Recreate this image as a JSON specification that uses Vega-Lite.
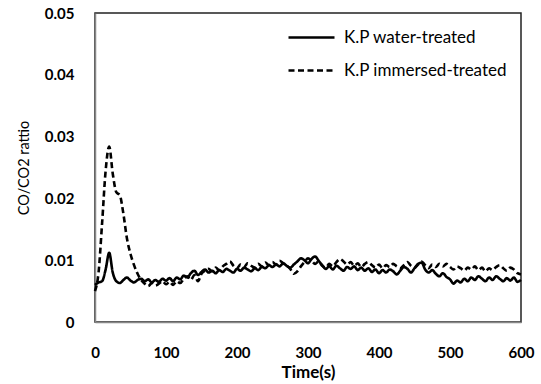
{
  "$schema": "https://vega.github.io/schema/vega-lite/v6.json",
  "autosize": "none",
  "width": 426,
  "height": 309,
  "padding": {"left": 95, "top": 13, "right": 20, "bottom": 62},
  "background": "white",
  "config": {
    "view": {"stroke": "#222", "strokeWidth": 1.5},
    "font": "Lato"
  },
  "data": {
    "values": [
      {"t":0,"w":0.0060,"i":0.0050},{"t":5,"w":0.0064,"i":0.0080},{"t":10,"w":0.0066,"i":0.0160},{"t":15,"w":0.0085,"i":0.0245},
      {"t":20,"w":0.0112,"i":0.0284},{"t":25,"w":0.0080,"i":0.0240},{"t":30,"w":0.0066,"i":0.0210},{"t":35,"w":0.0063,"i":0.0205},
      {"t":40,"w":0.0068,"i":0.0175},{"t":45,"w":0.0072,"i":0.0135},{"t":50,"w":0.0067,"i":0.0110},{"t":55,"w":0.0064,"i":0.0092},
      {"t":60,"w":0.0068,"i":0.0078},{"t":65,"w":0.0070,"i":0.0068},{"t":70,"w":0.0066,"i":0.0062},{"t":75,"w":0.0069,"i":0.0058},
      {"t":80,"w":0.0064,"i":0.0063},{"t":85,"w":0.0068,"i":0.0059},{"t":90,"w":0.0065,"i":0.0062},{"t":95,"w":0.0070,"i":0.0066},
      {"t":100,"w":0.0067,"i":0.0061},{"t":105,"w":0.0071,"i":0.0065},{"t":110,"w":0.0066,"i":0.0060},{"t":115,"w":0.0072,"i":0.0066},
      {"t":120,"w":0.0069,"i":0.0063},{"t":125,"w":0.0075,"i":0.0070},{"t":130,"w":0.0072,"i":0.0074},{"t":135,"w":0.0079,"i":0.0068},
      {"t":140,"w":0.0083,"i":0.0076},{"t":145,"w":0.0076,"i":0.0066},{"t":150,"w":0.0081,"i":0.0078},{"t":155,"w":0.0085,"i":0.0083},
      {"t":160,"w":0.0080,"i":0.0086},{"t":165,"w":0.0083,"i":0.0082},{"t":170,"w":0.0079,"i":0.0088},{"t":175,"w":0.0084,"i":0.0084},
      {"t":180,"w":0.0081,"i":0.0090},{"t":185,"w":0.0086,"i":0.0094},{"t":190,"w":0.0083,"i":0.0098},{"t":195,"w":0.0080,"i":0.0091},
      {"t":200,"w":0.0086,"i":0.0087},{"t":205,"w":0.0083,"i":0.0093},{"t":210,"w":0.0088,"i":0.0089},{"t":215,"w":0.0085,"i":0.0095},
      {"t":220,"w":0.0082,"i":0.0091},{"t":225,"w":0.0087,"i":0.0088},{"t":230,"w":0.0084,"i":0.0094},{"t":235,"w":0.0089,"i":0.0090},
      {"t":240,"w":0.0087,"i":0.0096},{"t":245,"w":0.0092,"i":0.0092},{"t":250,"w":0.0089,"i":0.0097},{"t":255,"w":0.0093,"i":0.0093},
      {"t":260,"w":0.0090,"i":0.0099},{"t":265,"w":0.0095,"i":0.0095},{"t":270,"w":0.0091,"i":0.0091},{"t":275,"w":0.0088,"i":0.0086},
      {"t":280,"w":0.0093,"i":0.0078},{"t":285,"w":0.0098,"i":0.0082},{"t":290,"w":0.0103,"i":0.0090},{"t":295,"w":0.0100,"i":0.0097},
      {"t":300,"w":0.0095,"i":0.0103},{"t":305,"w":0.0102,"i":0.0099},{"t":310,"w":0.0106,"i":0.0094},{"t":315,"w":0.0099,"i":0.0098},
      {"t":320,"w":0.0092,"i":0.0091},{"t":325,"w":0.0086,"i":0.0088},{"t":330,"w":0.0090,"i":0.0094},{"t":335,"w":0.0085,"i":0.0090},
      {"t":340,"w":0.0091,"i":0.0097},{"t":345,"w":0.0087,"i":0.0102},{"t":350,"w":0.0083,"i":0.0098},{"t":355,"w":0.0089,"i":0.0093},
      {"t":360,"w":0.0086,"i":0.0097},{"t":365,"w":0.0090,"i":0.0091},{"t":370,"w":0.0084,"i":0.0095},{"t":375,"w":0.0088,"i":0.0089},
      {"t":380,"w":0.0083,"i":0.0094},{"t":385,"w":0.0087,"i":0.0097},{"t":390,"w":0.0081,"i":0.0092},{"t":395,"w":0.0085,"i":0.0088},
      {"t":400,"w":0.0079,"i":0.0093},{"t":405,"w":0.0084,"i":0.0087},{"t":410,"w":0.0080,"i":0.0092},{"t":415,"w":0.0085,"i":0.0089},
      {"t":420,"w":0.0082,"i":0.0094},{"t":425,"w":0.0077,"i":0.0090},{"t":430,"w":0.0083,"i":0.0087},{"t":435,"w":0.0089,"i":0.0092},
      {"t":440,"w":0.0086,"i":0.0097},{"t":445,"w":0.0080,"i":0.0091},{"t":450,"w":0.0087,"i":0.0088},{"t":455,"w":0.0094,"i":0.0093},
      {"t":460,"w":0.0096,"i":0.0098},{"t":465,"w":0.0085,"i":0.0092},{"t":470,"w":0.0080,"i":0.0087},{"t":475,"w":0.0084,"i":0.0093},
      {"t":480,"w":0.0078,"i":0.0089},{"t":485,"w":0.0074,"i":0.0094},{"t":490,"w":0.0079,"i":0.0090},{"t":495,"w":0.0073,"i":0.0094},
      {"t":500,"w":0.0069,"i":0.0089},{"t":505,"w":0.0062,"i":0.0085},{"t":510,"w":0.0067,"i":0.0090},{"t":515,"w":0.0064,"i":0.0087},
      {"t":520,"w":0.0070,"i":0.0083},{"t":525,"w":0.0066,"i":0.0088},{"t":530,"w":0.0072,"i":0.0085},{"t":535,"w":0.0068,"i":0.0090},
      {"t":540,"w":0.0074,"i":0.0084},{"t":545,"w":0.0070,"i":0.0088},{"t":550,"w":0.0066,"i":0.0082},{"t":555,"w":0.0072,"i":0.0087},
      {"t":560,"w":0.0068,"i":0.0084},{"t":565,"w":0.0074,"i":0.0089},{"t":570,"w":0.0070,"i":0.0092},{"t":575,"w":0.0066,"i":0.0087},
      {"t":580,"w":0.0071,"i":0.0083},{"t":585,"w":0.0067,"i":0.0088},{"t":590,"w":0.0072,"i":0.0085},{"t":595,"w":0.0065,"i":0.0079},
      {"t":600,"w":0.0068,"i":0.0077}
    ]
  },
  "transform": [{"fold": ["w", "i"], "as": ["series", "value"]}],
  "mark": {"type": "line", "color": "black", "strokeWidth": 2.6, "interpolate": "monotone"},
  "encoding": {
    "x": {
      "field": "t", "type": "quantitative",
      "scale": {"domain": [0, 600], "nice": false},
      "axis": {
        "title": "Time(s)", "values": [0,100,200,300,400,500,600],
        "grid": false, "ticks": false, "domain": true, "domainColor": "#888", "domainWidth": 1.5,
        "labelFont": "Lato", "labelFontSize": 15, "labelFontWeight": "bold", "labelColor": "black",
        "labelPadding": 23, "labelFlush": false,
        "titleFont": "Lato", "titleFontSize": 17, "titleFontWeight": "bold", "titleColor": "black",
        "titlePadding": 4
      }
    },
    "y": {
      "field": "value", "type": "quantitative",
      "scale": {"domain": [0, 0.05], "nice": false},
      "axis": {
        "title": "CO/CO2 rattio", "values": [0,0.01,0.02,0.03,0.04,0.05],
        "labelExpr": "datum.value == 0 ? '0' : format(datum.value, '.2f')",
        "grid": false, "ticks": false, "domain": true, "domainColor": "#888", "domainWidth": 1.5,
        "labelFont": "Lato", "labelFontSize": 15, "labelFontWeight": "bold", "labelColor": "black",
        "labelPadding": 21,
        "titleFont": "Lato", "titleFontSize": 14.5, "titleFontWeight": "normal", "titleColor": "black",
        "titlePadding": 13
      }
    },
    "strokeDash": {
      "field": "series", "type": "nominal",
      "scale": {"domain": ["w", "i"], "range": [[1, 0], [6, 3.5]]},
      "legend": {
        "title": null, "orient": "none", "legendX": 192, "legendY": 0,
        "labelExpr": "datum.label == 'w' ? 'K.P water-treated' : 'K.P immersed-treated'",
        "symbolType": "stroke", "symbolSize": 2116, "symbolStrokeWidth": 2.6, "symbolStrokeColor": "black",
        "labelFont": "Lato", "labelFontSize": 17, "labelColor": "black", "labelOffset": 8,
        "labelLimit": 400, "rowPadding": 0
      }
    }
  }
}
